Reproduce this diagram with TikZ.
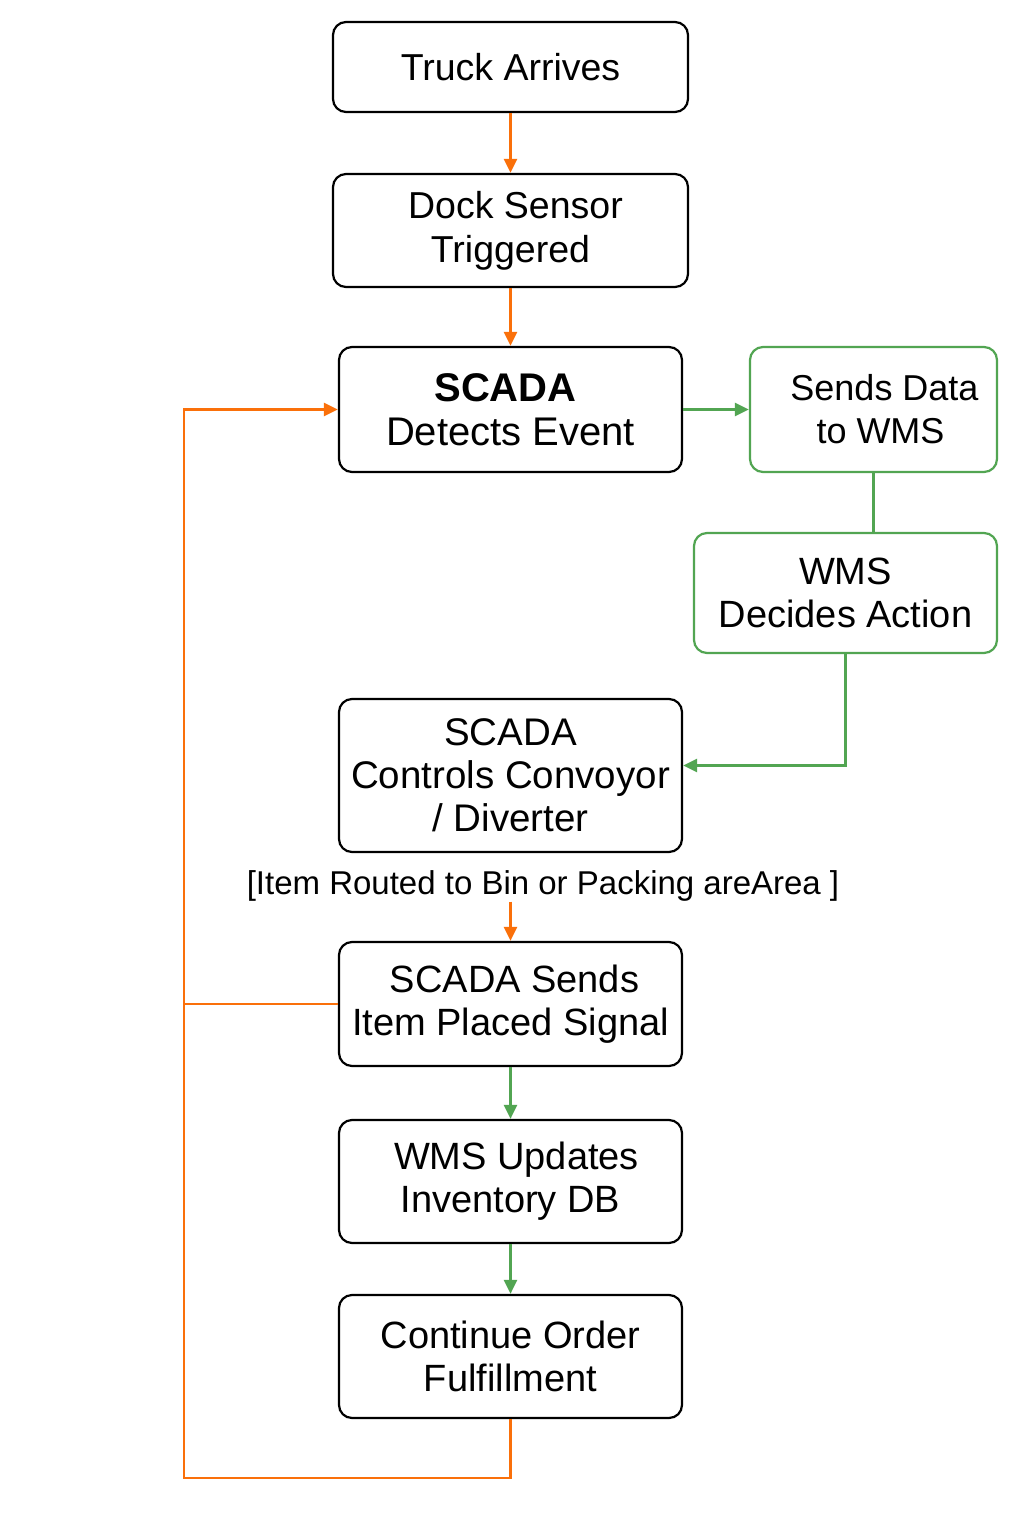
\documentclass[tikz,border=0pt]{standalone}
\usepackage{fontspec}
\setmainfont{Liberation Sans}
\usetikzlibrary{arrows.meta,calc}
\definecolor{orng}{RGB}{250,112,10}
\definecolor{grn}{RGB}{82,165,82}
\begin{document}
\begin{tikzpicture}[x=1pt,y=-1pt,
  box/.style={draw=black,line width=2.2pt,rounded corners=13pt,align=center,
    font=\fontsize{38}{43}\selectfont,inner sep=0pt},
  gbox/.style={box,draw=grn},
  oline/.style={draw=orng,line width=2.6pt},
  gline/.style={draw=grn,line width=2.6pt},
  tip/.style={-{Triangle[length=14pt,width=13pt]}}]
\useasboundingbox[fill=white] (0,0) rectangle (1024,1536);
\node[box,minimum width=355pt,minimum height=90pt,font=\fontsize{37.5}{43}\selectfont] (truck) at (510.5,67) {Truck Arrives};
\node[box,minimum width=355pt,minimum height=113pt,font=\fontsize{37.5}{44}\selectfont] (dock) at (510.5,230.5) {\hspace*{10pt}Dock Sensor\\Triggered};
\node[box,minimum width=343pt,minimum height=125pt,font=\fontsize{40}{44}\selectfont] (scada) at (510.5,409.5) {\hspace*{-10pt}\textbf{SCADA}\\Detects Event};
\node[gbox,minimum width=247pt,minimum height=125pt,font=\fontsize{36}{43}\selectfont] (sends) at (873.5,409.5) {\hspace*{22pt}Sends Data\\\hspace*{14pt}to WMS};
\node[gbox,minimum width=303pt,minimum height=120pt] (wms) at (845.5,593) {WMS\\Decides Action};
\node[box,minimum width=343pt,minimum height=153pt,font=\fontsize{38.5}{43}\selectfont] (ctrl) at (510.5,775.5) {SCADA\\Controls Convoyor\\/ Diverter};
\node[inner sep=0pt,font=\fontsize{33}{40}\selectfont] (lbl) at (543,886) {[Item Routed to Bin or Packing areArea ]};
\node[box,minimum width=343pt,minimum height=124pt] (placed) at (510.5,1004) {\hspace*{8pt}SCADA Sends\\Item Placed Signal};
\node[box,minimum width=343pt,minimum height=123pt] (inv) at (510.5,1181.5) {\hspace*{12pt}WMS Updates\\Inventory DB};
\node[box,minimum width=343pt,minimum height=123pt] (cont) at (510.5,1356.5) {Continue Order\\Fulfillment};
\coordinate (loopBL) at (184,1478);
% connectors
\draw[oline,tip] (truck) -- (dock);
\draw[oline,tip] (dock) -- (scada);
\draw[gline,tip] (scada.east) -- (sends.west);
\draw[gline] (sends.south) -- (sends.south |- wms.north);
\draw[gline,tip] (wms.south) |- ([yshift=10pt]ctrl.east);
\draw[oline,tip] (lbl.south -| placed.north) -- (placed.north);
\draw[gline,tip] (placed) -- (inv);
\draw[gline,tip] (inv) -- (cont);
\draw[oline,tip] (cont.south) |- (loopBL) |- (scada.west);
\draw[oline] (placed.west) -- (placed.west -| loopBL);
\end{tikzpicture}
\end{document}
